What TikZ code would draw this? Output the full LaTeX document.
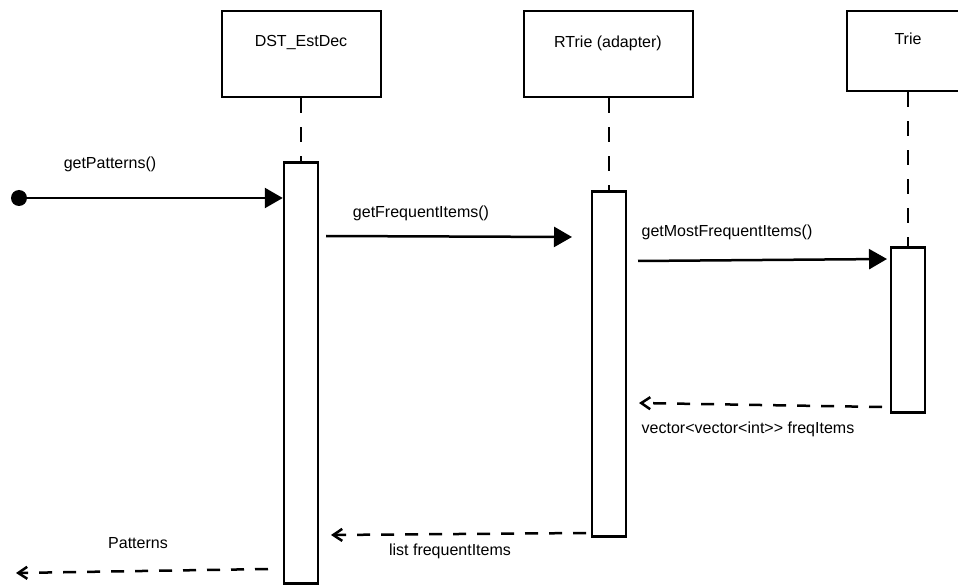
\documentclass[tikz,border=0pt]{standalone}
\usepackage{fontspec}
\setmainfont{Liberation Sans}
\usetikzlibrary{arrows.meta,positioning}
\tikzset{
  head/.style={draw=black, line width=2.5pt, fill=white},
  act/.style={draw=black, line width=2.5pt, fill=white},
  life/.style={draw=black, line width=2.5pt, dash pattern=on 15pt off 14pt},
  call/.style={draw=black, line width=2.5pt, -{Triangle[length=18pt,width=20pt]}},
  reply/.style={draw=black, line width=2.5pt, dash pattern=on 13pt off 11pt, -{Straight Barb[length=9pt,width=12pt]}},
  lab/.style={text=black, font=\fontsize{16}{19}\selectfont, inner sep=0pt},
  dot/.style={circle, fill=black, inner sep=0pt, minimum size=16pt},
}

\begin{document}
\begin{tikzpicture}[x=1pt,y=-1pt]
  \useasboundingbox (0,0) rectangle (958,585);
  \clip (0,0) rectangle (958,585);
  % heads
  \node[head, minimum width=159pt, minimum height=86pt] (dst) at (301.5,54) {};
  \node[head, minimum width=169pt, minimum height=86pt] (rtrie) at (608.5,54) {};
  \node[head, minimum width=122pt, minimum height=80pt] (trie) at (908,51) {};
  \node[lab] (dstT) at (301,43) {DST\_EstDec};
  \node[lab] (rtrieT) at (608,43) {RTrie (adapter)};
  \node[lab] (trieT) at (908,39) {Trie};
  % activations
  \node[act, minimum width=34pt, minimum height=421pt] (actA) at (301,373) {};
  \node[act, minimum width=34pt, minimum height=345pt] (actB) at (609,364) {};
  \node[act, minimum width=34pt, minimum height=165pt] (actC) at (908,330) {};
  \draw[life] (dst.south -| actA.north) -- (actA.north);
  \draw[life] (rtrie.south -| actB.north) -- (actB.north);
  \draw[life] (trie.south -| actC.north) -- (actC.north);
  % calls
  \node[dot] (start) at (19,198) {};
  \draw[call] (start.center) -- (start.center -| actA.west);
  \node[lab] (getP) at (110,164) {getPatterns()};
  \coordinate (m2a) at (326,236); \coordinate (m2b) at (572,237);
  \draw[call] (m2a) -- (m2b);
  \node[lab] (getF) at (421,213) {getFrequentItems()};
  \coordinate (m3a) at (638,261); \coordinate (m3b) at (887,259);
  \draw[call] (m3a) -- (m3b);
  \node[lab] (getM) at (727,232) {getMostFrequentItems()};
  % replies
  \coordinate (r1a) at (882,407); \coordinate (r1b) at (639,403);
  \draw[reply] (r1a) -- (r1b);
  \node[lab] (vec) at (748,429) {vector<vector<int>{}> freqItems};
  \coordinate (r2a) at (586,533); \coordinate (r2b) at (331,535);
  \draw[reply] (r2a) -- (r2b);
  \node[lab] (lst) at (450,551) {list frequentItems};
  \coordinate (r3a) at (268,569); \coordinate (r3b) at (16,573);
  \draw[reply] (r3a) -- (r3b);
  \node[lab] (pat) at (138,543) {Patterns};
\end{tikzpicture}
\end{document}
